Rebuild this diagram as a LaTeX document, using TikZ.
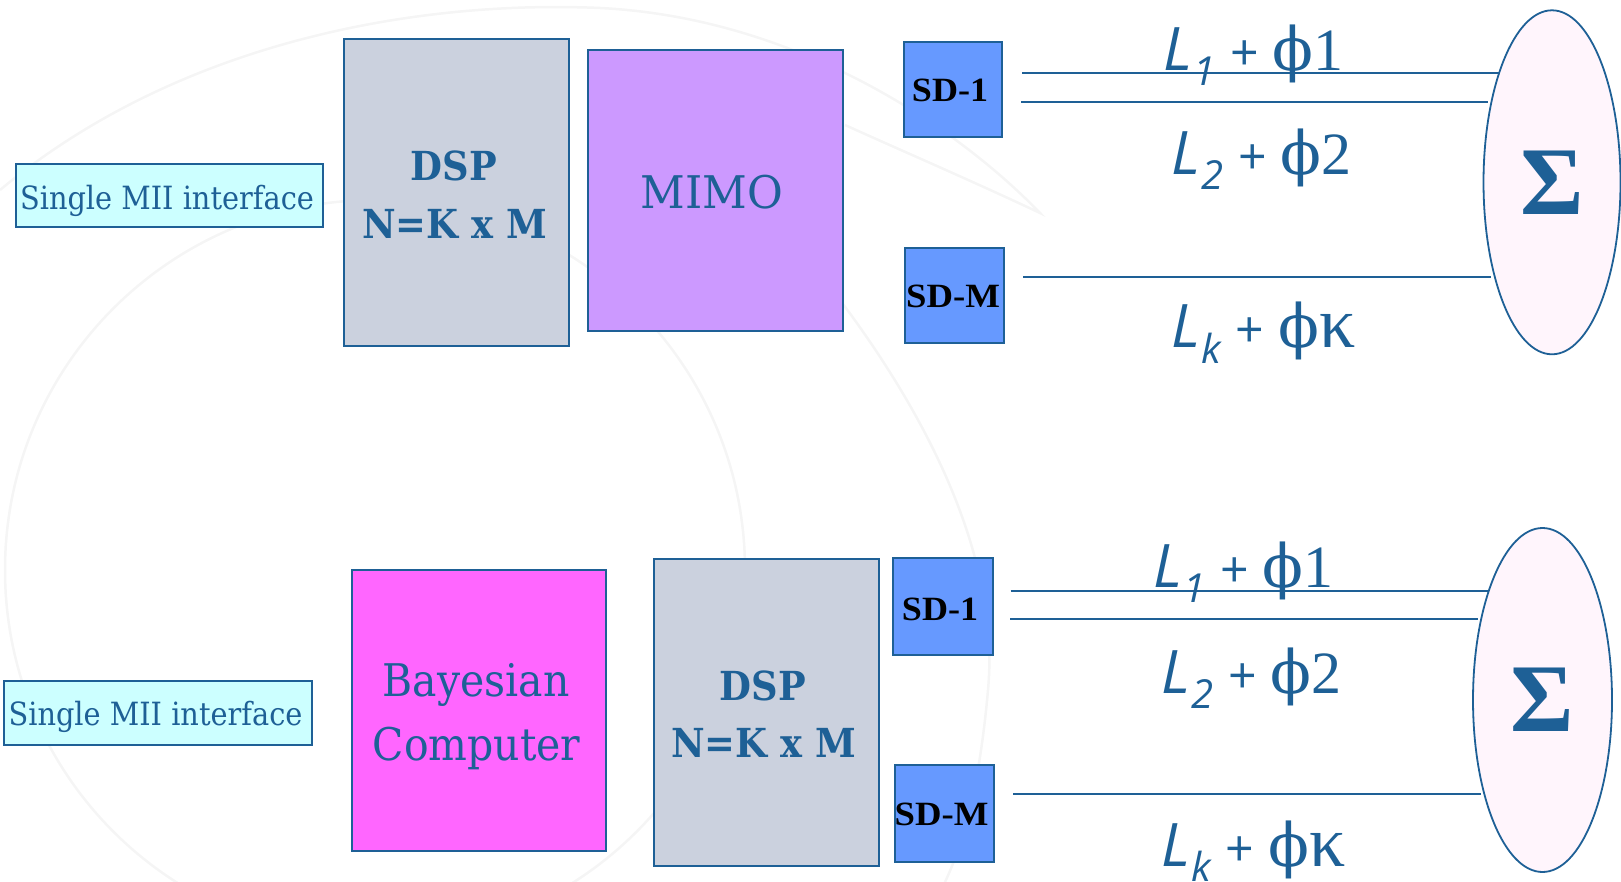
\documentclass[tikz,border=0pt]{standalone}
\usepackage{fontspec}
\usepackage{graphicx}
\setmainfont{DejaVu Serif}
\newfontfamily\sdfont{Liberation Serif}
\newfontfamily\lblsans{Open Sans}
\newfontfamily\lblserif{Liberation Serif}
\newfontfamily\phifont{DejaVu Serif}
\usetikzlibrary{shapes.geometric,calc}

\definecolor{ink}{RGB}{30,96,150}
\definecolor{dspfill}{RGB}{203,209,222}
\definecolor{mimofill}{RGB}{204,153,255}
\definecolor{bayesfill}{RGB}{255,102,255}
\definecolor{sdfill}{RGB}{102,153,255}
\definecolor{miifill}{RGB}{204,255,255}
\definecolor{sumfill}{RGB}{255,245,252}
\definecolor{faint}{RGB}{245,245,245}

% horizontally condensed text
\newcommand\squeeze[2]{\scalebox{#1}[1]{#2}}
% path label: L_{#1} + phi #2
\newcommand\pathlabel[2]{%
  {\lblsans\itshape L}\hspace{2pt}%
  \raisebox{-15pt}{\lblsans\itshape\fontsize{40}{40}\selectfont #1}\hspace{14pt}%
  {\lblsans\fontsize{50}{50}\selectfont +}\hspace{14pt}%
  {\phifont ϕ}#2}

\tikzset{
  blk/.style={rectangle, draw=ink, line width=2pt, inner sep=0pt},
  txt/.style={text=ink, inner sep=0pt, anchor=base},
  sdtxt/.style={text=black, inner sep=0pt, anchor=base,
    font=\sdfont\bfseries\fontsize{34}{34}\selectfont},
  miitxt/.style={txt, font=\fontsize{32}{32}\selectfont},
  bigtxt/.style={txt, font=\fontsize{45}{45}\selectfont},
  dsptxt/.style={txt, font=\bfseries\fontsize{40}{40}\selectfont},
  lbl/.style={text=ink, inner sep=0pt, anchor=base west,
    font=\fontsize{60}{60}\selectfont},
  wire/.style={draw=ink, line width=2pt},
  sumnode/.style={ellipse, draw=ink, line width=1.8pt, fill=sumfill,
    inner sep=0pt, text=ink, font=\sdfont\bfseries\fontsize{97}{97}\selectfont},
  bg/.style={draw=faint, line width=2.5pt}
}

\begin{document}
\begin{tikzpicture}[x=1pt, y=-1pt]
\useasboundingbox (0,0) rectangle (1621,882);

% faint background swirl
\begin{scope}
  \clip (0,0) rectangle (1621,882);
  \draw[bg] (375,570) circle[radius=370pt];
  \draw[bg] (0,190) .. controls (180,40) and (420,0) .. (600,8)
            .. controls (800,18) and (960,130) .. (1040,213)
            .. controls (970,180) and (900,150) .. (845,125);
  \draw[bg] (840,300) .. controls (930,420) and (1000,560) .. (988,690)
            .. controls (980,780) and (965,840) .. (945,882);
\end{scope}

% ---------- upper chain ----------
\node[blk, fill=miifill, minimum width=307pt, minimum height=63.5pt] (mii1) at (169,195.7) {};
\node[miitxt] (mii1t) at (167,209.5) {\squeeze{0.9}{Single MII interface}};

\node[blk, fill=dspfill, minimum width=225pt, minimum height=306.5pt] (dsp1) at (456.5,192.3) {};
\node[dsptxt] (dsp1a) at (454,181) {\squeeze{0.92}{DSP}};
\node[dsptxt] (dsp1b) at (454.5,239) {\squeeze{0.92}{N=K x M}};

\node[blk, fill=mimofill, minimum width=254.5pt, minimum height=280.5pt] (mimo) at (715.7,190.3) {};
\node[bigtxt] (mimot) at (712,209) {\squeeze{0.97}{MIMO}};

\node[blk, fill=sdfill, minimum width=98pt, minimum height=95.5pt] (sd1) at (953.4,89.5) {};
\node[sdtxt] (sd1t) at (950,101.5) {\squeeze{1.06}{SD-1}};
\node[blk, fill=sdfill, minimum width=98.5pt, minimum height=95pt] (sdm) at (954.7,295.8) {};
\node[sdtxt] (sdmt) at (953,308) {\squeeze{1.08}{SD-M}};

\node[sumnode, minimum width=137pt, minimum height=344pt] (sum1) at (1552,182.3) {\raisebox{-5pt}{Σ}};

\coordinate (w1a) at (1022,73.3);  \coordinate (w1b) at (1500,73.3);
\coordinate (w2a) at (1021,101.7); \coordinate (w2b) at (1488,101.7);
\coordinate (w3a) at (1023,277.3); \coordinate (w3b) at (1491,277.3);
\draw[wire] (w1a) -- (w1b);
\draw[wire] (w2a) -- (w2b);
\draw[wire] (w3a) -- (w3b);

\node[lbl] (l11) at (1163,70.7) {\pathlabel{1}{{\lblserif 1}}};
\node[lbl] (l12) at (1171,175) {\pathlabel{2}{{\lblserif 2}}};
\node[lbl] (l1k) at (1171,348) {\pathlabel{k}{{\lblserif\fontsize{72}{72}\selectfont κ}}};

% ---------- lower chain ----------
\node[blk, fill=miifill, minimum width=307.5pt, minimum height=64pt] (mii2) at (158,713) {};
\node[miitxt] (mii2t) at (155.5,725) {\squeeze{0.9}{Single MII interface}};

\node[blk, fill=bayesfill, minimum width=254pt, minimum height=280.5pt] (bayes) at (478.5,710.3) {};
\node[bigtxt] (bayesa) at (476,696.7) {\squeeze{0.91}{Bayesian}};
\node[bigtxt] (bayesb) at (476.7,760) {\squeeze{0.91}{Computer}};

\node[blk, fill=dspfill, minimum width=225pt, minimum height=306.5pt] (dsp2) at (766.3,712.3) {};
\node[dsptxt] (dsp2a) at (763,700) {\squeeze{0.92}{DSP}};
\node[dsptxt] (dsp2b) at (763.5,757) {\squeeze{0.92}{N=K x M}};

\node[blk, fill=sdfill, minimum width=99.5pt, minimum height=96.5pt] (sd2) at (942.9,606.7) {};
\node[sdtxt] (sd2t) at (940,620) {\squeeze{1.06}{SD-1}};
\node[blk, fill=sdfill, minimum width=99.5pt, minimum height=96.5pt] (sdm2) at (944.4,813.3) {};
\node[sdtxt] (sdm2t) at (941.6,825.7) {\squeeze{1.08}{SD-M}};

\node[sumnode, minimum width=139pt, minimum height=344pt] (sum2) at (1542.5,700) {\raisebox{-4pt}{Σ}};

\coordinate (v1a) at (1010.6,590.7); \coordinate (v1b) at (1489.4,590.7);
\coordinate (v2a) at (1010,619.3);   \coordinate (v2b) at (1477.6,619.3);
\coordinate (v3a) at (1013,794.3);   \coordinate (v3b) at (1480.7,794.3);
\draw[wire] (v1a) -- (v1b);
\draw[wire] (v2a) -- (v2b);
\draw[wire] (v3a) -- (v3b);

\node[lbl] (l21) at (1153,587.7) {\pathlabel{1}{{\lblserif 1}}};
\node[lbl] (l22) at (1161,693) {\pathlabel{2}{{\lblserif 2}}};
\node[lbl] (l2k) at (1161,866.7) {\pathlabel{k}{{\lblserif\fontsize{72}{72}\selectfont κ}}};
\end{tikzpicture}
\end{document}
